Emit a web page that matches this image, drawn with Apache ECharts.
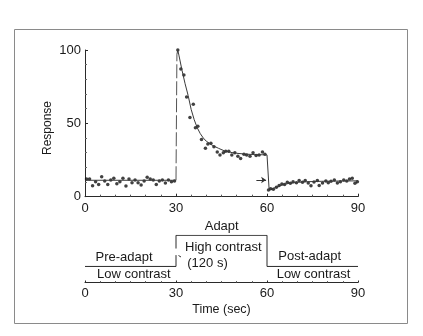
<!DOCTYPE html>
<html><head><meta charset="utf-8">
<script src="https://cdn.jsdelivr.net/npm/echarts@6/dist/echarts.min.js"></script>
<style>html,body{margin:0;padding:0;background:#fff}#c{width:423px;height:336px}</style>
</head><body><div id="c"></div>
<script>
// ---- data ----
const xTicks = [0, 30, 60, 90];
const yTicks = [0, 50, 100];
const yTitle = 'Response';
const xTitle = 'Time (sec)';
const preT = [0.5,1.5,2.5,3.5,4.5,5.5,6.5,7.5,8.5,9.5,10.5,11.5,12.5,13.5,14.5,15.5,16.5,17.5,18.5,19.5,20.5,21.5,22.5,23.5,24.5,25.5,26.5,27.5,28.5,29.5];
const preV = [12,12,7.5,10.2,8.4,13.6,10.7,8.4,11.4,12.5,8.9,10.2,12.5,7.3,12,9.5,11.4,9.5,8,10.7,13.2,12,11.4,8.4,10.7,11.4,9.3,11.4,10.2,10.7];
const adaptT = [30.6,31.6,32.6,33.5,34.6,35.7,36.4,37.2,38.4,39.7,40.5,41.5,42.5,43.6,44.5,45.6,46.4,47.4,48.4,49.4,50.4,51.3,52.4,53.3,54.4,55.4,56.4,57.4,58.5,59.3];
const adaptV = [100,87,83,68,54,63,47,48,39,33,36,36.5,34,30.5,28.5,30,31,31,28.5,30,27.5,26,29,28.5,27.5,30,28,28.5,30.5,29];
const postT = [60.5,61.2,62.1,63.1,64,64.9,65.8,66.7,67.7,68.6,69.7,70.6,71.7,72.6,73.6,74.5,75.5,76.6,77.2,78.3,79.4,80.2,81.1,82.2,83.2,84.2,85.3,86.3,87.2,88.1,89,89.8];
const postV = [4.5,5.5,5,6.4,7.7,8.6,8.4,9.8,9.1,10.2,9.5,11.1,9.8,11.1,9.3,7.5,10,11.1,7.7,9.3,10.7,9.5,10.5,11.4,9.3,10.2,11.4,10.7,12,12.5,9.1,10.2];
const fitPreT = [0, 30];
const fitPreV = [11.2, 11.2];
const jumpT = [30, 30.3];
const jumpV = [11.2, 97];
const fitT = [30.3,30.6,31,32,33,34,35,36,37,38,39,40,42,44,46,48,50,53,56,60,60.7,61,62,63,64,65,66,68,70,73,78,84,90];
const fitV = [97,100,96,86,77,69,59.5,52.5,47,43,40,37.8,35,33,31.2,30.2,29.6,29,28.7,28.5,5,5.2,5.6,6.4,7.2,8,8.6,9.3,9.8,10.2,10.5,10.7,10.8];
const arrowT = [56.5, 59.7];
const arrowV = [11.4, 11.4];
// stimulus trace levels
const stimLowT1 = [0, 30];
const stimHighT = [30, 30, 60, 60, 90];
const stimHighV = [1, 1, 1, 0.34, 0.34];
const stimLowV = 0.34;
const stimTopGapV = 0.72;
const stimBotGapV = 0.58;

const txt = '#1a1a1a', ln = '#2a2a2a', font = '"Liberation Sans", Arial, sans-serif';
const zip = (a, b) => a.map((t, i) => [t, b[i]]);

const chart = echarts.init(document.getElementById('c'), null, {renderer: 'canvas'});
chart.setOption({
  animation: false,
  backgroundColor: '#fff',
  textStyle: {fontFamily: font, color: txt},
  grid: [
    {left: 85, right: 65, top: 50, bottom: 139.3},
    {left: 85, right: 65, top: 235.3, bottom: 53.5}
  ],
  xAxis: [
    {gridIndex: 0, type: 'value', min: xTicks[0], max: xTicks[xTicks.length-1], interval: 30,
     axisLine: {lineStyle: {color: ln, width: 1}},
     axisTick: {show: true, inside: true, length: 3, lineStyle: {color: ln}},
     minorTick: {show: true, splitNumber: 6, length: 2, lineStyle: {color: '#555'}},
     axisLabel: {margin: 5, fontSize: 13, color: txt, fontFamily: font},
     splitLine: {show: false}},
    {gridIndex: 1, type: 'value', min: xTicks[0], max: xTicks[xTicks.length-1], interval: 30,
     name: xTitle, nameLocation: 'middle', nameGap: 21,
     nameTextStyle: {fontSize: 12.5, color: txt, fontFamily: font},
     axisLine: {lineStyle: {color: ln, width: 1}},
     axisTick: {show: true, inside: true, length: 2, lineStyle: {color: ln}},
     minorTick: {show: true, splitNumber: 6, length: 1.5, lineStyle: {color: '#666'}},
     axisLabel: {margin: 4, fontSize: 13, color: txt, fontFamily: font},
     splitLine: {show: false}}
  ],
  yAxis: [
    {gridIndex: 0, type: 'value', min: yTicks[0], max: yTicks[yTicks.length-1], interval: 50,
     axisLine: {show: true, lineStyle: {color: ln, width: 1}},
     axisTick: {show: true, inside: true, length: 3, lineStyle: {color: ln}},
     minorTick: {show: true, splitNumber: 5, length: 2, lineStyle: {color: '#666'}},
     axisLabel: {margin: 4, fontSize: 13, color: txt, fontFamily: font},
     splitLine: {show: false}},
    {gridIndex: 1, type: 'value', min: 0, max: 1, show: false}
  ],
  series: [
    {type: 'line', xAxisIndex: 0, yAxisIndex: 0, data: zip(fitPreT, fitPreV), symbol: 'none',
     lineStyle: {color: '#3a3a3a', width: 1}},
    {type: 'line', xAxisIndex: 0, yAxisIndex: 0, data: zip(jumpT, jumpV), symbol: 'none',
     lineStyle: {color: '#555', width: 1, type: [14, 3]}},
    {type: 'line', xAxisIndex: 0, yAxisIndex: 0, data: zip(fitT, fitV), symbol: 'none',
     lineStyle: {color: '#3a3a3a', width: 1},
     markLine: {silent: true, animation: false, symbol: ['none', 'arrow'], symbolSize: 5,
       label: {show: false},
       lineStyle: {color: '#333', width: 1, type: 'solid'},
       data: [[{coord: [arrowT[0], arrowV[0]]}, {coord: [arrowT[1], arrowV[1]]}]]}},
    {type: 'scatter', xAxisIndex: 0, yAxisIndex: 0, data: zip(preT, preV), symbol: 'circle', symbolSize: 3.5,
     itemStyle: {color: '#111'}},
    {type: 'scatter', xAxisIndex: 0, yAxisIndex: 0, data: zip(adaptT, adaptV), symbol: 'circle', symbolSize: 3.5,
     itemStyle: {color: '#111'}},
    {type: 'scatter', xAxisIndex: 0, yAxisIndex: 0, data: zip(postT, postV), symbol: 'circle', symbolSize: 3.5,
     itemStyle: {color: '#111'}},
    // stimulus panel
    {type: 'line', xAxisIndex: 1, yAxisIndex: 1, data: zip(stimLowT1, [stimLowV, stimLowV]), symbol: 'none',
     lineStyle: {color: ln, width: 1}},
    {type: 'line', xAxisIndex: 1, yAxisIndex: 1, data: [[30, stimTopGapV]].concat(zip(stimHighT, stimHighV).slice(1)), symbol: 'none',
     lineStyle: {color: ln, width: 1}},
    {type: 'line', xAxisIndex: 1, yAxisIndex: 1, data: [[30, stimLowV], [30, stimBotGapV]], symbol: 'none',
     lineStyle: {color: ln, width: 1}}
  ],
  graphic: [
    {type: 'rect', shape: {x: 14.5, y: 29.5, width: 393, height: 294}, style: {fill: 'none', stroke: '#8a8a8a', lineWidth: 1}, silent: true},
    {type: 'text', x: 47.7, y: 128, rotation: Math.PI / 2, style: {text: yTitle, fontSize: 12, fontFamily: font, fill: txt, align: 'center', verticalAlign: 'middle'}},
    {type: 'text', x: 221.7, y: 226, style: {text: 'Adapt', fontSize: 13, fontFamily: font, fill: txt, align: 'center', verticalAlign: 'middle'}},
    {type: 'text', x: 223.3, y: 247, style: {text: 'High contrast', fontSize: 13, fontFamily: font, fill: txt, align: 'center', verticalAlign: 'middle'}},
    {type: 'text', x: 207.5, y: 263.5, style: {text: '(120 s)', fontSize: 13, fontFamily: font, fill: txt, align: 'center', verticalAlign: 'middle'}},
    {type: 'text', x: 124, y: 257.7, style: {text: 'Pre-adapt', fontSize: 13, fontFamily: font, fill: txt, align: 'center', verticalAlign: 'middle'}},
    {type: 'text', x: 133.8, y: 274.3, style: {text: 'Low contrast', fontSize: 13, fontFamily: font, fill: txt, align: 'center', verticalAlign: 'middle'}},
    {type: 'text', x: 309.7, y: 256.7, style: {text: 'Post-adapt', fontSize: 13, fontFamily: font, fill: txt, align: 'center', verticalAlign: 'middle'}},
    {type: 'text', x: 313.5, y: 274.3, style: {text: 'Low contrast', fontSize: 13, fontFamily: font, fill: txt, align: 'center', verticalAlign: 'middle'}},
    {type: 'line', shape: {x1: 178.5, y1: 255.5, x2: 181, y2: 257}, style: {stroke: '#333', lineWidth: 1}}
  ]
});
</script></body></html>
